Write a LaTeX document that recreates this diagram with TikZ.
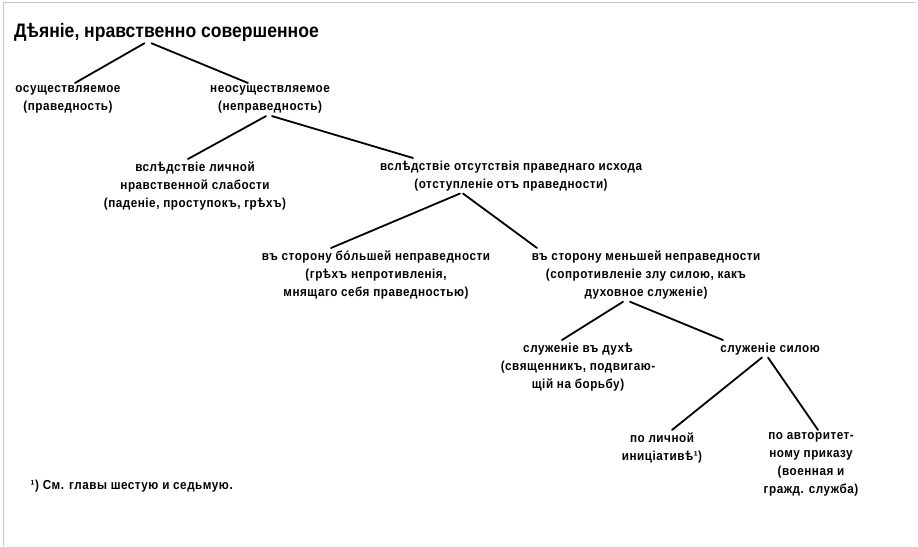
\documentclass[tikz,border=0pt]{standalone}
\usepackage{fontspec}
\setmainfont{Liberation Sans}[FakeStretch=0.9]
\newfontfamily\bodyfont{Liberation Sans}[FakeStretch=0.9, LetterSpace=4]
\begin{document}
\begin{tikzpicture}[x=1pt,y=-1pt]
\tikzset{
  lbl/.style={font=\bodyfont\bfseries\fontsize{13}{18}\selectfont, align=center, inner sep=2.5pt, anchor=north},
  ttl/.style={font=\bfseries\fontsize{19.5}{22}\selectfont, inner sep=2pt, anchor=base west},
  edge/.style={line width=1.8pt, line cap=round},
  frame/.style={draw=black!22, line width=1pt}
}
\useasboundingbox (0,0) rectangle (918,546);
\draw[frame] (3,546) -- (3,2) -- (916,2);

\node[ttl] (A) at (12,37) {Дѣяніе, нравственно совершенное};
\node[lbl] (B) at (68,83) {осуществляемое\\(праведность)};
\node[lbl] (C) at (270,83) {неосуществляемое\\(неправедность)};
\node[lbl] (D) at (195,159) {вслѣдствіе личной\\нравственной слабости\\(паденіе, проступокъ, грѣхъ)};
\node[lbl] (E) at (511,158) {вслѣдствіе отсутствія праведнаго исхода\\(отступленіе отъ праведности)};
\node[lbl] (F) at (376,248) {въ сторону бóльшей неправедности\\(грѣхъ непротивленія,\\мнящаго себя праведностью)};
\node[lbl] (G) at (646,248) {въ сторону меньшей неправедности\\(сопротивленіе злу силою, какъ\\духовное служеніе)};
\node[lbl] (H) at (578,340) {служеніе въ духѣ\\(священникъ, подвигаю-\\щій на борьбу)};
\node[lbl] (I) at (770,340) {служеніе силою};
\node[lbl] (J) at (662,430) {по личной\\иниціативѣ¹)};
\node[lbl] (K) at (811,430) {по авторитет-\\ному приказу\\(военная и\\гражд. служба)};
\node[lbl, anchor=north west] (N) at (28,477) {¹) См. главы шестую и седьмую.};

\draw[edge] ([xshift=-22pt]A.south) -- ([xshift=7pt]B.north);
\draw[edge] ([xshift=-15pt]A.south) -- ([xshift=-22pt]C.north);
\draw[edge] ([xshift=-4pt]C.south) -- ([xshift=-7pt]D.north);
\draw[edge] ([xshift=2pt]C.south) -- ([xshift=-98pt]E.north);
\draw[edge] ([xshift=-51pt]E.south) -- ([xshift=-45pt]F.north);
\draw[edge] ([xshift=-48pt]E.south) -- ([xshift=-109pt]G.north);
\draw[edge] ([xshift=-23pt]G.south) -- ([xshift=-16pt]H.north);
\draw[edge] ([xshift=-16pt]G.south) -- ([xshift=-47pt]I.north);
\draw[edge] ([xshift=-8pt]I.south) -- ([xshift=10pt]J.north);
\draw[edge] ([xshift=-2pt]I.south) -- ([xshift=7pt]K.north);
\end{tikzpicture}
\end{document}
